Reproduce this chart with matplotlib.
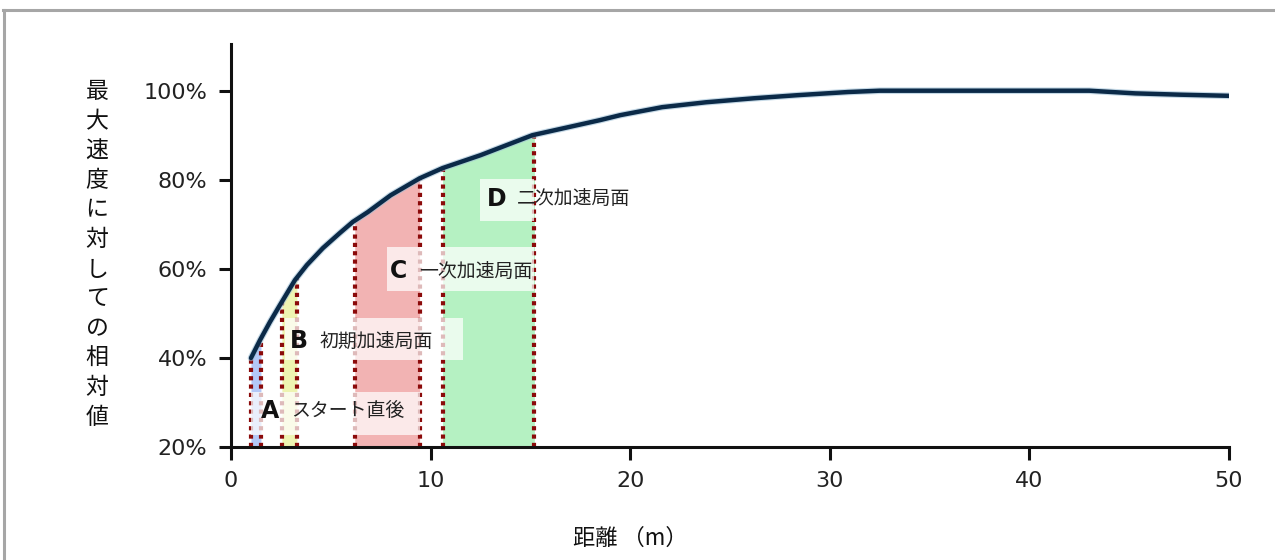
import numpy as np
import matplotlib
matplotlib.use("Agg")
import matplotlib.pyplot as plt
from matplotlib.lines import Line2D

plt.rcParams['font.family'] = ['DejaVu Sans', 'Noto Sans CJK JP']

# ---- data ----
dist = [1.0, 1.45, 1.95, 2.45, 3.2, 3.8, 4.6, 5.45, 6.1, 6.85, 8, 9.45,
        10.6, 12.5, 15.1, 17, 18.5, 19.5, 21.6, 23.8, 26.2, 28.4, 30.9,
        32.5, 43, 45.3, 47.6, 50]
speed = [40.0, 44.0, 48.1, 51.9, 57.5, 60.9, 64.7, 68.1, 70.6, 72.8, 76.6,
         80.4, 82.7, 85.6, 90.1, 92.0, 93.5, 94.6, 96.4, 97.5, 98.4, 99.1,
         99.8, 100.1, 100.1, 99.5, 99.2, 98.95]

phase_letters = ["A", "B", "C", "D"]
phase_names = ["スタート直後", "初期加速局面", "一次加速局面", "二次加速局面"]
phase_start = [1.0, 2.55, 6.2, 10.6]
phase_end = [1.5, 3.3, 9.45, 15.2]
phase_colors = ["#b3c8f7", "#eef4b2", "#f2b3b3", "#b5f1c2"]

xticks = [0, 10, 20, 30, 40, 50]
yticks = [20, 40, 60, 80, 100]
ytick_labels = ["20%", "40%", "60%", "80%", "100%"]
ylabel_text = "最大速度に対しての相対値"
xlabel_text = "距離 （m）"

# label anchor positions (data coords) and box extents
label_pos = [(1.5, 28.1), (2.95, 43.8), (7.95, 59.5), (12.8, 75.8)]
box_ext = [(1.0, 9.45, 22.7, 32.4), (2.7, 11.6, 39.6, 49.0),
           (7.8, 15.2, 55.0, 65.0), (12.45, 15.2, 70.9, 80.3)]

W, H = 1275, 560
fig = plt.figure(figsize=(W / 100, H / 100), dpi=100)
ax = fig.add_axes([231 / W, 1 - 447 / H, (1229 - 231) / W, (447 - 44) / H])

d = np.array(dist)
s = np.array(speed)

# shaded phases
for a, b, c in zip(phase_start, phase_end, phase_colors):
    xs = np.concatenate(([a], d[(d > a) & (d < b)], [b]))
    ys = np.interp(xs, d, s)
    ax.fill_between(xs, 20, ys, color=c, lw=0, zorder=1)
    for xe in (a, b):
        ax.plot([xe, xe], [20, np.interp(xe, d, s)], color="#8b0a0a",
                lw=3, ls=(0, (1, 1)), zorder=2)

# label boxes + text
for (lx, ly), (x0, x1, y0, y1), L, nm in zip(label_pos, box_ext,
                                             phase_letters, phase_names):
    ax.add_patch(plt.Rectangle((x0, y0), x1 - x0, y1 - y0, facecolor="white",
                               alpha=0.72, lw=0, zorder=3))
    ax.text(lx, ly, L, fontsize=17, fontweight="bold", ha="left",
            va="center", color="#111111", zorder=4)
    ax.text(lx + 1.5, ly, nm, fontsize=13.6, ha="left", va="center",
            family=["Noto Sans CJK JP"], color="#222222", zorder=4)

# curve
ax.plot(d, s, color="#9fc0d6", lw=4.8, alpha=0.6, zorder=5,
        solid_capstyle="round", solid_joinstyle="round")
ax.plot(d, s, color="#0b2a48", lw=3.2, zorder=6, solid_capstyle="round",
        solid_joinstyle="round")

ax.set_xlim(0, 50)
ax.set_ylim(20, 110.6)
ax.set_xticks(xticks)
ax.set_yticks(yticks)
ax.set_yticklabels(ytick_labels)
for sp in ("top", "right"):
    ax.spines[sp].set_visible(False)
for sp in ("left", "bottom"):
    ax.spines[sp].set_linewidth(2.2)
    ax.spines[sp].set_color("#111111")
ax.tick_params(axis="both", length=9, width=2.2, pad=8, labelsize=16,
               colors="#111111", labelcolor="#222222")

# vertical y label, one char per line
n = len(ylabel_text)
top_y, bot_y = 92, 417
for i, ch in enumerate(ylabel_text):
    py = top_y + (bot_y - top_y) * i / (n - 1)
    fig.text(97 / W, 1 - py / H, ch, fontsize=16.5, ha="center", va="center",
             family=["Noto Sans CJK JP"], color="#111111")

fig.text(630 / W, 1 - 538 / H, xlabel_text, fontsize=16, ha="center",
         va="center", family=["Noto Sans CJK JP"], color="#111111")

# figure frame (top and left edges)
fig.add_artist(Line2D([3 / W, 1], [1 - 9.5 / H, 1 - 9.5 / H],
                      transform=fig.transFigure, color="#a6a6a6", lw=2.2))
fig.add_artist(Line2D([3.5 / W, 3.5 / W], [0, 1 - 9.5 / H],
                      transform=fig.transFigure, color="#a6a6a6", lw=2.2))

fig.savefig("out.png", dpi=100, facecolor="white")
